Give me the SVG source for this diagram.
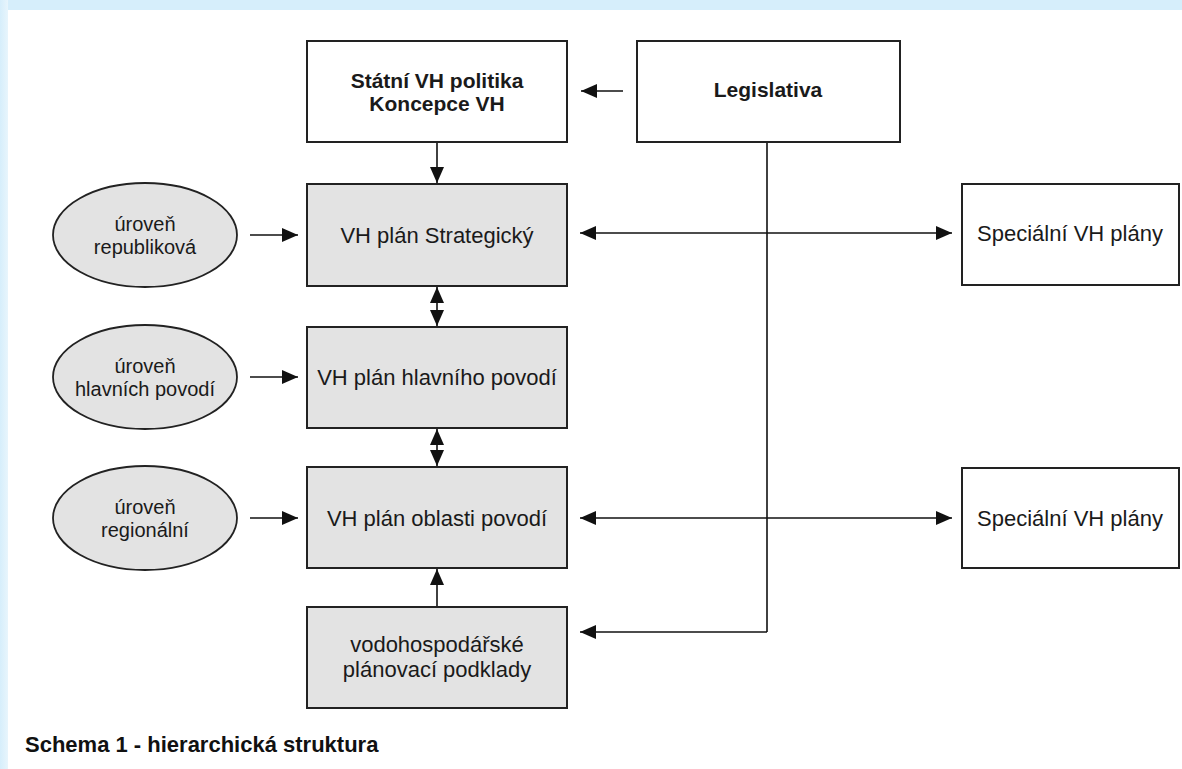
<svg xmlns="http://www.w3.org/2000/svg" width="1182" height="769" viewBox="0 0 1182 769">
  <defs>
    <marker id="ah" viewBox="0 0 16 14" refX="16" refY="7" markerWidth="16" markerHeight="14" markerUnits="userSpaceOnUse" orient="auto-start-reverse">
      <path d="M0,0 L16,7 L0,14 Z" fill="#111"/>
    </marker>
    <linearGradient id="leftband" x1="0" y1="0" x2="1" y2="0">
      <stop offset="0" stop-color="#d6eefb"/>
      <stop offset="1" stop-color="#e8f5fc"/>
    </linearGradient>
  </defs>
  <style>
    .box { stroke: #222; stroke-width: 2; }
    .white { fill: #ffffff; }
    .gray { fill: #e3e3e3; }
    .ell { fill: #e3e3e3; stroke: #222; stroke-width: 1.8; }
    .t { font-family: "Liberation Sans", Arial, sans-serif; font-size: 22px; fill: #1a1a1a; text-anchor: middle; }
    .b { font-weight: bold; font-size: 21px; }
    .e { font-size: 20px; }
    .ln { stroke: #111; stroke-width: 1.6; fill: none; }
    .cap { font-family: "Liberation Sans", Arial, sans-serif; font-size: 22px; font-weight: bold; fill: #111; }
  </style>
  <rect x="0" y="0" width="1182" height="769" fill="#ffffff"/>
  <rect x="0" y="0" width="1182" height="10" fill="#d6eefb"/>
  <rect x="0" y="0" width="8" height="769" fill="url(#leftband)"/>

  <g id="connectors">
    <line class="ln" x1="623" y1="91" x2="581" y2="91" marker-end="url(#ah)"/>
    <line class="ln" x1="437" y1="142" x2="437" y2="183" marker-end="url(#ah)"/>
    <line class="ln" x1="767" y1="142" x2="767" y2="632"/>
    <line class="ln" x1="250" y1="235" x2="298" y2="235" marker-end="url(#ah)"/>
    <line class="ln" x1="250" y1="377" x2="298" y2="377" marker-end="url(#ah)"/>
    <line class="ln" x1="250" y1="518" x2="298" y2="518" marker-end="url(#ah)"/>
    <line class="ln" x1="580" y1="233" x2="952" y2="233" marker-start="url(#ah)" marker-end="url(#ah)"/>
    <line class="ln" x1="580" y1="518" x2="952" y2="518" marker-start="url(#ah)" marker-end="url(#ah)"/>
    <line class="ln" x1="437" y1="287" x2="437" y2="326" marker-start="url(#ah)" marker-end="url(#ah)"/>
    <line class="ln" x1="437" y1="429" x2="437" y2="466" marker-start="url(#ah)" marker-end="url(#ah)"/>
    <line class="ln" x1="437" y1="607" x2="437" y2="569" marker-end="url(#ah)"/>
    <line class="ln" x1="767" y1="632" x2="580" y2="632" marker-end="url(#ah)"/>
  </g>

  <g id="statni">
    <rect class="box white" x="307" y="41" width="260" height="101"/>
    <text class="t b" x="437" y="88">Státní VH politika</text>
    <text class="t b" x="437" y="111">Koncepce VH</text>
  </g>
  <g id="legislativa">
    <rect class="box white" x="637" y="41" width="263" height="101"/>
    <text class="t b" x="768" y="97">Legislativa</text>
  </g>
  <g id="strategicky">
    <rect class="box gray" x="307" y="184" width="260" height="102"/>
    <text class="t" x="437" y="243">VH plán Strategický</text>
  </g>
  <g id="hlavni">
    <rect class="box gray" x="307" y="327" width="260" height="101"/>
    <text class="t" x="437" y="385">VH plán hlavního povodí</text>
  </g>
  <g id="oblasti">
    <rect class="box gray" x="307" y="467" width="260" height="101"/>
    <text class="t" x="437" y="526">VH plán oblasti povodí</text>
  </g>
  <g id="podklady">
    <rect class="box gray" x="307" y="607" width="260" height="101"/>
    <text class="t" x="437" y="652">vodohospodářské</text>
    <text class="t" x="437" y="677">plánovací podklady</text>
  </g>
  <g id="specialni1">
    <rect class="box white" x="962" y="184" width="217" height="101"/>
    <text class="t" x="1070" y="241">Speciální VH plány</text>
  </g>
  <g id="specialni2">
    <rect class="box white" x="962" y="468" width="217" height="100"/>
    <text class="t" x="1070" y="526">Speciální VH plány</text>
  </g>
  <g id="uroven-republikova">
    <ellipse class="ell" cx="145" cy="235" rx="92" ry="52"/>
    <text class="t e" x="145" y="231">úroveň</text>
    <text class="t e" x="145" y="254">republiková</text>
  </g>
  <g id="uroven-hlavnich">
    <ellipse class="ell" cx="145" cy="377" rx="92" ry="52"/>
    <text class="t e" x="145" y="373">úroveň</text>
    <text class="t e" x="145" y="396">hlavních povodí</text>
  </g>
  <g id="uroven-regionalni">
    <ellipse class="ell" cx="145" cy="518" rx="92" ry="52"/>
    <text class="t e" x="145" y="514">úroveň</text>
    <text class="t e" x="145" y="537">regionální</text>
  </g>

  <text class="cap" x="25" y="752">Schema 1 - hierarchická struktura</text>
</svg>
